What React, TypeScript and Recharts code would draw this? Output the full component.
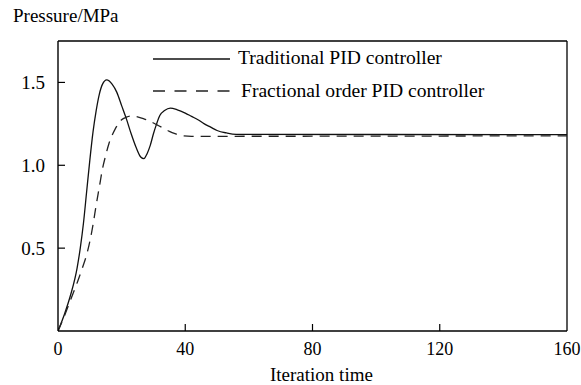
import React from "react";
import { LineChart, Line, XAxis, YAxis, ReferenceLine } from "recharts";

const traditionalX = [0, 2, 4, 6, 7, 8, 9, 10, 11, 12, 13, 14, 15.3, 17, 18.5, 20, 21.5, 23, 24.5, 26, 27, 28, 29, 30, 31, 32, 33.5, 35.3, 37.5, 40, 42, 44, 46, 48, 50, 53, 56, 160];
const traditionalY = [0, 0.1, 0.22, 0.38, 0.5, 0.65, 0.84, 1.03, 1.2, 1.33, 1.43, 1.49, 1.515, 1.49, 1.44, 1.36, 1.28, 1.19, 1.11, 1.05, 1.04, 1.07, 1.12, 1.19, 1.25, 1.3, 1.33, 1.345, 1.335, 1.315, 1.295, 1.275, 1.25, 1.23, 1.21, 1.195, 1.187, 1.185];

const fractionalX = [0, 2, 4, 6, 8, 9, 10, 11, 12, 13, 14, 15, 16, 17, 18, 19, 20, 21.5, 23, 25, 27, 29, 31, 33, 35, 37, 39, 42, 160];
const fractionalY = [0, 0.09, 0.19, 0.29, 0.4, 0.46, 0.54, 0.64, 0.76, 0.87, 0.98, 1.06, 1.13, 1.18, 1.22, 1.25, 1.275, 1.29, 1.297, 1.292, 1.28, 1.265, 1.245, 1.225, 1.205, 1.19, 1.178, 1.175, 1.178];

const xTicks = [0, 40, 80, 120, 160];
const yTicks = [0.5, 1.0, 1.5];
const seriesNames = ["Traditional PID controller", "Fractional order PID controller"];
const xTitle = "Iteration time";
const yTitle = "Pressure/MPa";

const traditionalData = traditionalX.map((x, i) => ({ x, y: traditionalY[i] }));
const fractionalData = fractionalX.map((x, i) => ({ x, y: fractionalY[i] }));

const FONT = '"Liberation Serif", "Times New Roman", serif';

const XTick = (props: any) => {
  const { x, y, payload } = props;
  const v = payload.value;
  return (
    <g>
      {v !== 0 && v !== 160 && <line x1={x} y1={y} x2={x} y2={y - 7} stroke="#000" strokeWidth={1.2} />}
      <text x={x} y={y + 24} textAnchor="middle" fontFamily={FONT} fontSize={18} fill="#000">
        {v}
      </text>
    </g>
  );
};

const YTick = (props: any) => {
  const { x, y, payload } = props;
  return (
    <g>
      <line x1={x} y1={y} x2={x + 7} y2={y} stroke="#000" strokeWidth={1.2} />
      <text x={x - 13} y={y + 7} textAnchor="end" fontFamily={FONT} fontSize={19} fill="#000">
        {Number(payload.value).toFixed(1)}
      </text>
    </g>
  );
};

export default function App() {
  return (
    <div style={{ position: "fixed", left: 0, top: 0, width: 581, height: 385, background: "#fff" }}>
      <LineChart width={581} height={385} margin={{ top: 41, right: 14, left: 0, bottom: 0 }}>
        <XAxis
          type="number"
          dataKey="x"
          domain={[0, 160]}
          ticks={xTicks}
          tickSize={0}
          tickMargin={0}
          tickLine={false}
          height={54}
          stroke="#000"
          strokeWidth={1.4}
          tick={<XTick />}
          allowDataOverflow
        />
        <YAxis
          type="number"
          dataKey="y"
          domain={[0, 1.75]}
          ticks={yTicks}
          tickSize={0}
          tickMargin={0}
          tickLine={false}
          width={58}
          stroke="#000"
          strokeWidth={1.4}
          tick={<YTick />}
          allowDataOverflow
        />
        <ReferenceLine y={1.75} stroke="#000" strokeWidth={1.3} />
        <ReferenceLine x={160} stroke="#000" strokeWidth={1.3} />
        <Line
          data={traditionalData}
          dataKey="y"
          type="monotone"
          stroke="#111"
          strokeWidth={1.3}
          dot={false}
          isAnimationActive={false}
          name={seriesNames[0]}
        />
        <Line
          data={fractionalData}
          dataKey="y"
          type="monotone"
          stroke="#222"
          strokeWidth={1.3}
          strokeDasharray="10 7"
          dot={false}
          isAnimationActive={false}
          name={seriesNames[1]}
        />
      </LineChart>
      <svg
        width={581}
        height={385}
        style={{ position: "absolute", left: 0, top: 0, pointerEvents: "none" }}
      >
        <text x={13} y={22} fontFamily={FONT} fontSize={19} fill="#000">{yTitle}</text>
        <text x={270} y={381} fontFamily={FONT} fontSize={19} fill="#000">{xTitle}</text>
        <line x1={153} y1={59} x2={230} y2={59} stroke="#111" strokeWidth={1.3} />
        <text x={238} y={64} fontFamily={FONT} fontSize={19.6} fill="#000">{seriesNames[0]}</text>
        <line x1={153} y1={91} x2={230} y2={91} stroke="#222" strokeWidth={1.3} strokeDasharray="12 9.5" />
        <text x={241} y={97} fontFamily={FONT} fontSize={19.6} fill="#000">{seriesNames[1]}</text>
      </svg>
    </div>
  );
}
